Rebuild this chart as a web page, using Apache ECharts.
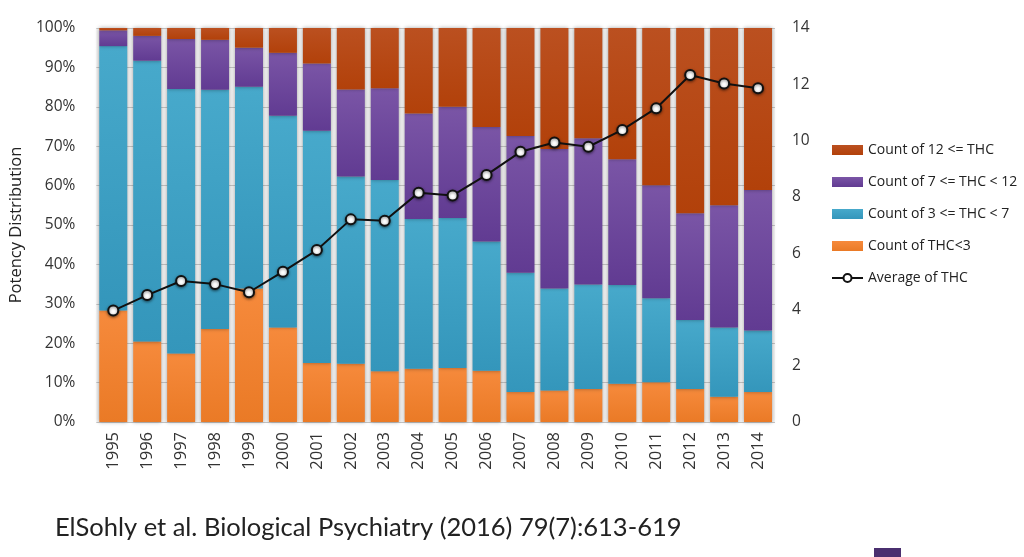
<!DOCTYPE html>
<html><head><meta charset="utf-8">
<script src="https://cdn.jsdelivr.net/npm/echarts@6/dist/echarts.min.js"></script>
<style>html,body{margin:0;padding:0;background:#fff}#c{width:1024px;height:557px}</style>
</head><body><div id="c"></div>
<script>
const years = ['1995','1996','1997','1998','1999','2000','2001','2002','2003','2004','2005','2006','2007','2008','2009','2010','2011','2012','2013','2014'];
// segment shares (%)
const thcLt3 = [28.3,20.4,17.4,23.6,33.9,24.0,15.0,14.8,12.9,13.5,13.7,13.0,7.6,8.0,8.4,9.7,10.1,8.4,6.4,7.6];
const thc3to7 = [67.1,71.3,67.1,60.7,51.2,53.7,58.9,47.5,48.5,38.0,38.1,32.8,30.3,25.9,26.5,25.1,21.3,17.5,17.6,15.6];
const thc7to12 = [4.0,6.3,12.7,12.7,9.9,16.0,17.1,22.1,23.3,26.8,28.2,29.1,34.7,35.4,37.1,31.9,28.7,27.1,31.0,35.7];
const thc12plus = [0.6,2.0,2.8,3.0,5.0,6.3,9.0,15.6,15.3,21.7,20.0,25.1,27.4,30.7,28.0,33.3,39.9,47.0,45.0,41.1];
const avgThc = [3.96,4.51,5.01,4.90,4.61,5.34,6.11,7.20,7.15,8.15,8.05,8.78,9.60,9.93,9.78,10.38,11.15,12.33,12.03,11.86];
const leftTicks = ['0%','10%','20%','30%','40%','50%','60%','70%','80%','90%','100%'];
const names = ['Count of 12 <= THC','Count of 7 <= THC < 12','Count of 3 <= THC < 7','Count of THC<3','Average of THC'];

function grad(top, bottom){
  return new echarts.graphic.LinearGradient(0,0,0,1,[{offset:0,color:top},{offset:1,color:bottom}]);
}
const font = 'Open Sans';
const chart = echarts.init(document.getElementById('c'), null, {renderer:'canvas'});
const barBase = {type:'bar', stack:'p', barWidth:28, yAxisIndex:0, silent:true};
const shadow = {shadowColor:'rgba(0,0,0,0.35)', shadowBlur:4};
chart.setOption({
  animation:false,
  textStyle:{fontFamily:font},
  grid:{left:95,right:249,top:28,bottom:135,show:true,backgroundColor:'#f4f4f4',borderWidth:0},
  legend:{
    orient:'vertical', left:831, top:142, padding:0, itemGap:16, itemWidth:31, itemHeight:10,
    textStyle:{fontFamily:font,fontSize:14,lineHeight:16,color:'#222'},
    data:[
      {name:names[0],icon:'rect'},
      {name:names[1],icon:'rect'},
      {name:names[2],icon:'rect'},
      {name:names[3],icon:'rect'},
      {name:names[4]}
    ]
  },
  xAxis:{
    type:'category', data:years,
    axisLine:{show:false}, axisTick:{show:false},
    axisLabel:{rotate:90, fontSize:16.5, color:'#333', margin:10, fontFamily:font}
  },
  yAxis:[
    {type:'value', min:0, max:100, interval:10,
     name:'Potency Distribution', nameLocation:'middle', nameGap:68, nameRotate:90,
     nameTextStyle:{fontSize:16.5,color:'#222',fontFamily:font},
     axisLabel:{formatter:(v)=>leftTicks[Math.round(v/10)], fontSize:15.5, color:'#333', margin:21, fontFamily:font},
     axisLine:{show:false}, axisTick:{show:false},
     splitLine:{lineStyle:{color:'#c4c4c4',width:1}}},
    {type:'value', min:0, max:14, interval:2, position:'right',
     axisLabel:{fontSize:15.5, color:'#333', margin:17, fontFamily:font},
     axisLine:{show:false}, axisTick:{show:false}, splitLine:{show:false}}
  ],
  series:[
    Object.assign({}, barBase, {name:names[3], data:thcLt3, itemStyle:Object.assign({color:grad('#f68a3c','#ea7a26')},shadow)}),
    Object.assign({}, barBase, {name:names[2], data:thc3to7, itemStyle:Object.assign({color:grad('#47a9cb','#3496bb')},shadow)}),
    Object.assign({}, barBase, {name:names[1], data:thc7to12, itemStyle:Object.assign({color:grad('#7a55a6','#613b92')},shadow)}),
    Object.assign({}, barBase, {name:names[0], data:thc12plus, itemStyle:Object.assign({color:grad('#bb5020','#b2410a')},shadow)}),
    {name:names[4], type:'line', yAxisIndex:1, data:avgThc, symbol:'circle', symbolSize:10,
     lineStyle:{color:'#111',width:2},
     itemStyle:{color:'#fff',borderColor:'#111',borderWidth:2,shadowColor:'rgba(0,0,0,0.5)',shadowBlur:3,shadowOffsetY:1},
     z:5}
  ],
  graphic:[
    {type:'text', left:55, top:515, style:{text:'ElSohly et al. Biological Psychiatry (2016) 79(7):613-619', fontFamily:'Lato', fontSize:25.5, fill:'#222'}},
    {type:'rect', left:874, top:548, shape:{width:27,height:12}, style:{fill:'#4a2f6f'}}
  ]
});
</script></body></html>
